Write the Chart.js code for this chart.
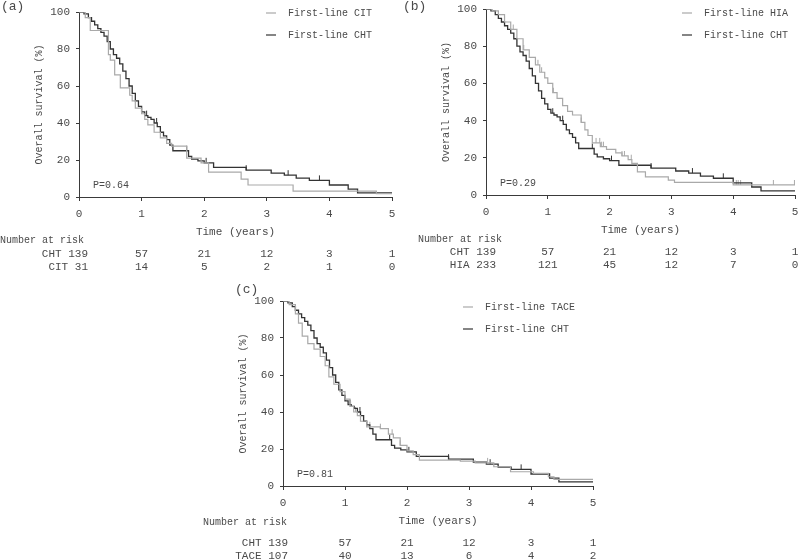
<!DOCTYPE html>
<html><head><meta charset="utf-8">
<script src="https://cdn.jsdelivr.net/npm/chart.js@4.4.1/dist/chart.umd.min.js"></script>
<style>
body{margin:0;background:#fff;width:800px;height:560px;position:relative;overflow:hidden}
canvas{position:absolute}
</style></head><body>
<canvas id="ca"></canvas><canvas id="cb"></canvas><canvas id="cc"></canvas>
<script>
// ---------- data ----------
const xTicks = [0, 1, 2, 3, 4, 5];
const yTicks = [0, 20, 40, 60, 80, 100];

// First-line CHT (shared reference group)
const chtTime = [0, .08, .15, .2, .25, .3, .35, .4, .45, .5, .55, .6, .65, .7, .75, .8, .85, .9, .95, 1.0, 1.05, 1.1, 1.15, 1.2, 1.25, 1.3, 1.35, 1.4, 1.45, 1.5, 1.75, 1.8, 1.9, 2.0, 2.15, 2.67, 3.07, 3.28, 3.47, 3.68, 4.0, 4.3, 4.45, 5];
const chtSurv = [100, 99, 97, 95, 93, 91, 89, 87, 84, 80, 77, 75, 72, 68, 64, 60, 56, 52, 49, 46, 44, 43, 42, 40, 38, 35, 33, 31, 28, 25, 22, 20.5, 19.5, 18.5, 16, 14.5, 12.9, 11.8, 10.2, 9, 6.5, 4.3, 2.2, 2.2];
const chtCensor = [1.08, 1.24, 1.72, 2.03, 2.67, 3.34, 3.84];

// First-line CIT
const citTime = [0, .1, .18, .47, .5, .57, .66, .81, .85, .9, 1.0, 1.05, 1.1, 1.2, 1.3, 1.4, 1.48, 1.72, 1.95, 2.07, 2.59, 2.7, 3.42, 4.75, 5];
const citSurv = [100, 97, 90, 77, 74, 66, 59, 55, 52, 48, 45, 42, 39, 35, 32, 29, 27.5, 21, 18.5, 13.5, 9.7, 6.5, 3.2, 1.8, 1.8];
const citCensor = [];

// First-line HIA
const hiaTime = [0, .1, .2, .3, .4, .5, .6, .7, .8, .87, .95, 1.0, 1.08, 1.15, 1.24, 1.32, 1.4, 1.54, 1.6, 1.65, 1.72, 1.85, 1.95, 2.1, 2.2, 2.3, 2.36, 2.45, 2.58, 2.95, 3.05, 4.0, 5];
const hiaSurv = [100, 99, 97, 93, 89, 84, 78, 74, 70, 66, 63, 60, 55, 52, 48, 45, 43, 39, 35, 32, 28, 26, 24.5, 22.6, 21, 19, 17, 12.4, 9.7, 8, 6.8, 5.4, 5.4];
const hiaCensor = [0.44, 0.61, 0.84, 0.9, 1.09, 1.54, 1.78, 1.84, 1.87, 1.9, 2.2, 2.24, 2.35, 4.05, 4.08, 4.12, 4.65, 4.99];

// First-line TACE
const taceTime = [0, .1, .2, .25, .31, .4, .5, .6, .68, .74, .82, .92, 1.0, 1.08, 1.14, 1.2, 1.25, 1.35, 1.57, 1.7, 1.78, 1.89, 2.0, 2.1, 2.2, 2.86, 3.1, 3.4, 3.67, 4.04, 4.28, 4.37, 5];
const taceSurv = [100, 98, 93, 88, 81, 77, 74, 70, 65, 59, 55, 51, 47, 43, 40, 38, 35, 32, 31, 28, 26, 22, 19, 17, 14, 13.5, 12.5, 10.4, 7.7, 6.8, 5, 3.6, 3.6];
const taceCensor = [1.09, 1.17, 1.4, 1.57, 1.76, 1.89, 3.3];

// Number at risk
const riskCHT = [139, 57, 21, 12, 3, 1];
const riskCIT = [31, 14, 5, 2, 1, 0];
const riskHIA = [233, 121, 45, 12, 7, 0];
const riskTACE = [107, 40, 13, 6, 4, 2];

const pValues = ['0.64', '0.29', '0.81'];

// ---------- styling ----------
const DARK = '#333333', LIGHT = '#a9a9a9', TXT = '#4a4a4a', AX = '#3a3a3a';
const FONT = '"Liberation Mono", "DejaVu Sans Mono", monospace';

function tickImg(color) {
  const c = document.createElement('canvas');
  c.width = 3; c.height = 12;
  const g = c.getContext('2d');
  g.strokeStyle = color; g.lineWidth = 1;
  g.beginPath(); g.moveTo(1.5, 1); g.lineTo(1.5, 6); g.stroke();
  return c;
}
function survAt(times, surv, t) {
  let v = surv[0];
  for (let i = 0; i < times.length; i++) { if (times[i] <= t) v = surv[i]; }
  return v;
}
function curve(label, times, surv, color, w) {
  return { label, isCurve: true, data: times.map((t, i) => ({ x: t, y: surv[i] })),
    stepped: true, borderColor: color, borderWidth: w, pointRadius: 0, fill: false };
}
function censor(times, surv, cens, color) {
  return { label: '', isCurve: false, data: cens.map(t => ({ x: t, y: survAt(times, surv, t) })),
    showLine: false, pointStyle: tickImg(color), pointRadius: 4, borderColor: color };
}

const decor = {
  id: 'decor',
  afterDraw(chart, args, o) {
    const { ctx, chartArea: a, scales: { x } } = chart;
    ctx.save();
    ctx.fillStyle = TXT;
    // panel letter
    ctx.font = '13px ' + FONT; ctx.textAlign = 'left'; ctx.textBaseline = 'top';
    ctx.fillText(o.letter, o.letterX, o.letterY);
    ctx.textBaseline = 'middle';
    // y title
    ctx.font = '10px ' + FONT;
    ctx.save(); ctx.translate(a.left - 40, (a.top + a.bottom) / 2); ctx.rotate(-Math.PI / 2);
    ctx.textAlign = 'center'; ctx.fillText('Overall survival (%)', 0, 0); ctx.restore();
    // x title
    ctx.font = '11px ' + FONT;
    ctx.textAlign = 'center';
    ctx.fillText('Time (years)', (a.left + a.right) / 2, a.bottom + 35);
    // P value
    ctx.font = '10px ' + FONT;
    ctx.textAlign = 'left';
    ctx.fillText('P=' + o.p, a.left + 14, a.bottom - 12);
    // legend
    let k = 0;
    chart.data.datasets.forEach(d => {
      if (!d.isCurve) return;
      const yy = o.legendY + k * 22;
      ctx.strokeStyle = d.borderColor; ctx.lineWidth = 1.2;
      ctx.beginPath(); ctx.moveTo(o.legendX, yy); ctx.lineTo(o.legendX + 10, yy); ctx.stroke();
      ctx.fillText(d.label, o.legendX + 22, yy);
      k++;
    });
    // number at risk
    ctx.fillText('Number at risk', o.riskX, a.bottom + o.riskHeadDy);
    ctx.font = '11px ' + FONT;
    o.rows.forEach((r, ri) => {
      const yy = a.bottom + 57 + ri * 13;
      r.values.forEach((v, i) => {
        const px = x.getPixelForValue(xTicks[i]);
        if (i === 0) { ctx.textAlign = 'right'; ctx.fillText(r.label + ' ' + v, px + o.riskDx, yy); }
        else { ctx.textAlign = 'center'; ctx.fillText(String(v), px, yy); }
      });
    });
    ctx.restore();
  }
};

function makePanel(id, rect, area, datasets, deco) {
  const cv = document.getElementById(id);
  cv.width = rect.w; cv.height = rect.h;
  cv.style.left = rect.x + 'px'; cv.style.top = rect.y + 'px';
  cv.style.width = rect.w + 'px'; cv.style.height = rect.h + 'px';
  const yW = area.l - rect.x, xH = rect.y + rect.h - area.b;
  return new Chart(cv, {
    type: 'line',
    data: { datasets },
    options: {
      responsive: false, animation: false, devicePixelRatio: 1,
      layout: { padding: { left: 0, bottom: 0, top: area.t - rect.y, right: rect.x + rect.w - area.r } },
      plugins: { legend: { display: false }, tooltip: { enabled: false }, decor: deco },
      scales: {
        x: { type: 'linear', min: 0, max: 5,
          afterBuildTicks: s => { s.ticks = xTicks.map(v => ({ value: v })); },
          afterFit: s => { s.height = xH; s.paddingLeft = 0; s.paddingRight = 0; },
          grid: { drawOnChartArea: false, drawTicks: true, tickLength: 4, color: AX },
          border: { display: true, color: AX, width: 1 },
          ticks: { padding: 6, color: TXT, font: { family: FONT, size: 11 }, maxRotation: 0 } },
        y: { type: 'linear', min: 0, max: 100,
          afterBuildTicks: s => { s.ticks = yTicks.map(v => ({ value: v })); },
          afterFit: s => { s.width = yW; s.paddingTop = 0; s.paddingBottom = 0; },
          grid: { drawOnChartArea: false, drawTicks: true, tickLength: 3, color: AX },
          border: { display: true, color: AX, width: 1 },
          ticks: { padding: 6, color: TXT, font: { family: FONT, size: 11 } } }
      }
    },
    plugins: [decor]
  });
}

makePanel('ca', { x: 0, y: 0, w: 400, h: 280 }, { l: 79, t: 12, r: 392, b: 197 }, [
  curve('First-line CIT', citTime, citSurv, LIGHT, 1.2),
  curve('First-line CHT', chtTime, chtSurv, DARK, 1.3),
  censor(citTime, citSurv, citCensor, LIGHT),
  censor(chtTime, chtSurv, chtCensor, DARK)
], { letter: '(a)', letterX: 1, letterY: 0, p: pValues[0], legendX: 266, legendY: 13, riskX: 0, riskHeadDy: 43, riskDx: 9,
  rows: [{ label: 'CHT', values: riskCHT }, { label: 'CIT', values: riskCIT }] });

makePanel('cb', { x: 400, y: 0, w: 400, h: 280 }, { l: 486, t: 9, r: 797, b: 195 }, [
  curve('First-line HIA', hiaTime, hiaSurv, LIGHT, 1.2),
  curve('First-line CHT', chtTime, chtSurv, DARK, 1.3),
  censor(hiaTime, hiaSurv, hiaCensor, LIGHT),
  censor(chtTime, chtSurv, chtCensor, DARK)
], { letter: '(b)', letterX: 3, letterY: 0, p: pValues[1], legendX: 282, legendY: 13, riskX: 18, riskHeadDy: 44, riskDx: 10,
  rows: [{ label: 'CHT', values: riskCHT }, { label: 'HIA', values: riskHIA }] });

makePanel('cc', { x: 200, y: 275, w: 400, h: 285 }, { l: 283, t: 301, r: 593, b: 486 }, [
  curve('First-line TACE', taceTime, taceSurv, LIGHT, 1.2),
  curve('First-line CHT', chtTime, chtSurv, DARK, 1.3),
  censor(taceTime, taceSurv, taceCensor, LIGHT),
  censor(chtTime, chtSurv, chtCensor, DARK)
], { letter: '(c)', letterX: 35, letterY: 8, p: pValues[2], legendX: 263, legendY: 32, riskX: 3, riskHeadDy: 36, riskDx: 5,
  rows: [{ label: 'CHT', values: riskCHT }, { label: 'TACE', values: riskTACE }] });
</script>
</body></html>
